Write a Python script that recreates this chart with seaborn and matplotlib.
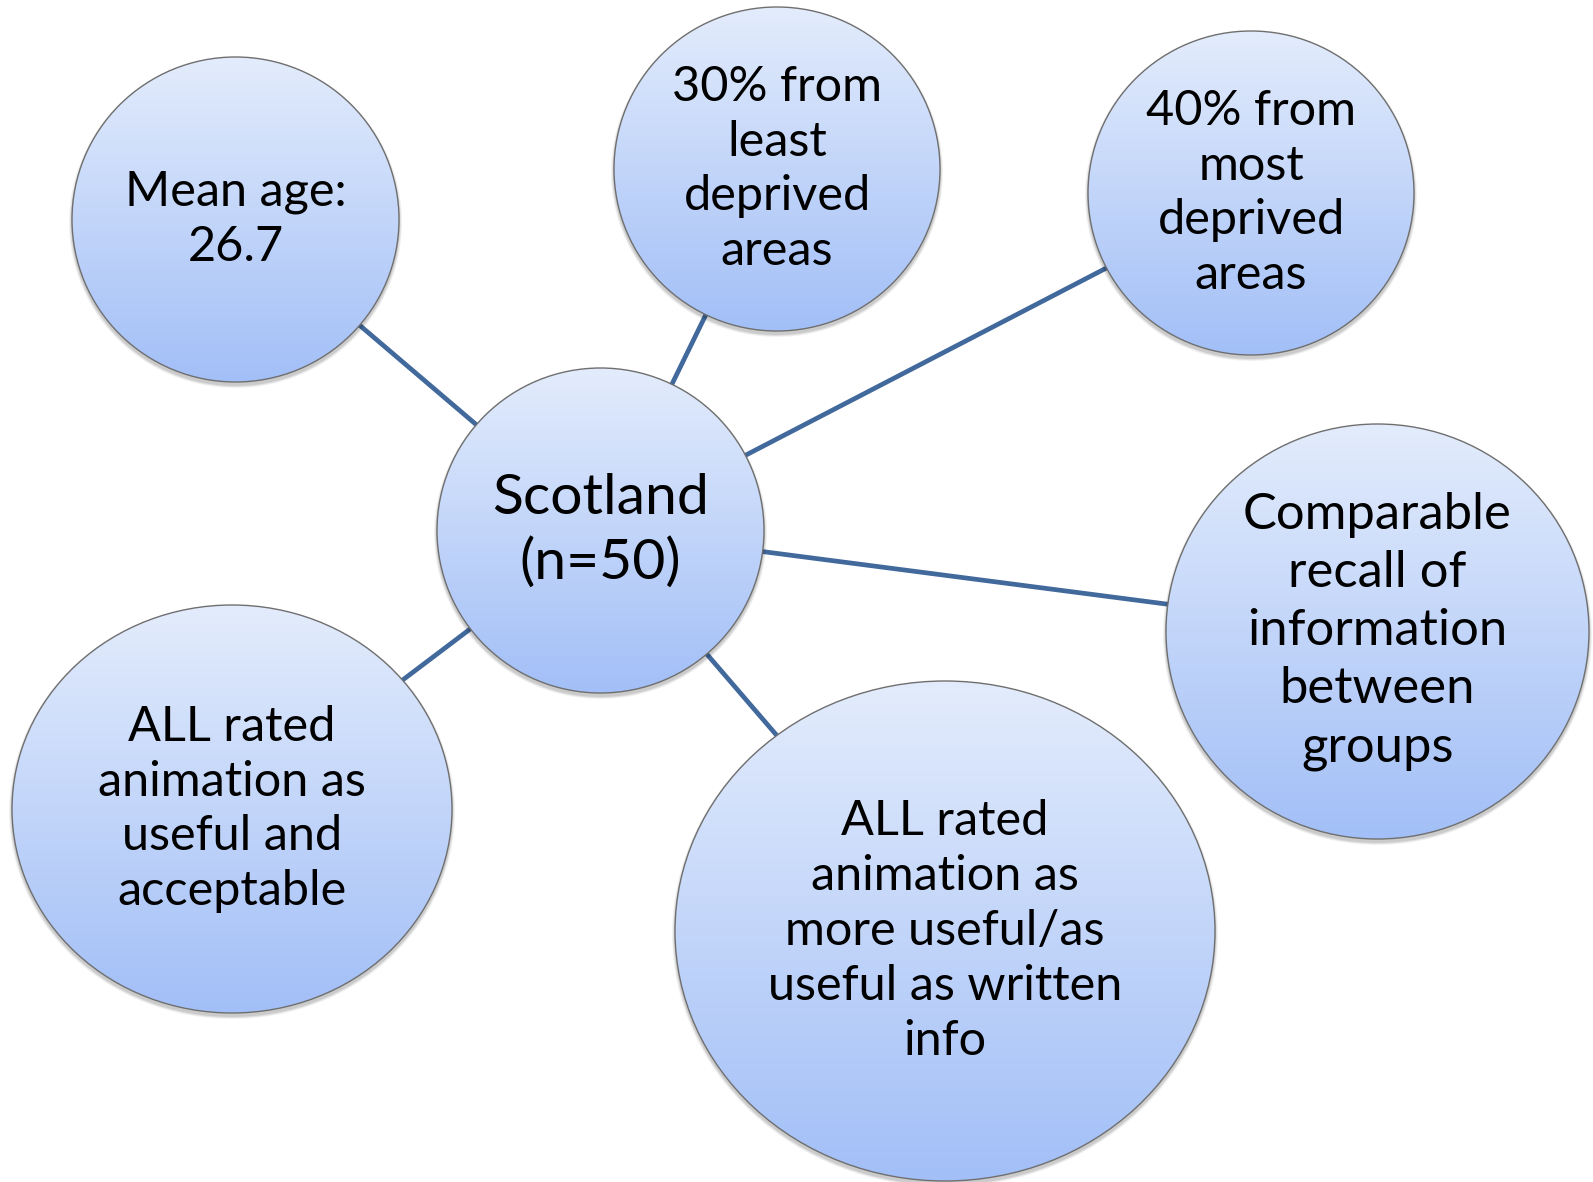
import numpy as np
import pandas as pd
import matplotlib
matplotlib.use("Agg")
import matplotlib.pyplot as plt
from matplotlib.patches import Ellipse
import seaborn as sns

# ---- content ----
hub_label = "Scotland\n(n=50)"
node_labels = [
    "Mean age:\n26.7",
    "30% from\nleast\ndeprived\nareas",
    "40% from\nmost\ndeprived\nareas",
    "Comparable\nrecall of\ninformation\nbetween\ngroups",
    "ALL rated\nanimation as\nmore useful/as\nuseful as written\ninfo",
    "ALL rated\nanimation as\nuseful and\nacceptable",
]

# ---- layout (pixel space) ----
hub_xy = (600.5, 530.5)
hub_r = (163.5, 162.5)
node_x = [235.5, 777, 1251, 1377.5, 945, 232]
node_y = [219.5, 169, 193, 631.5, 931, 809]
node_rx = [163.5, 163, 163, 211.5, 270, 220]
node_ry = [162.5, 162, 162, 207.5, 250, 204]
node_fs = [35, 35, 35, 36.5, 35, 35]
node_ls = [1.3, 1.3, 1.3, 1.33, 1.3, 1.3]

W, H = 1593, 1182
sns.set_theme(style="white")
plt.rcParams["font.family"] = ["Lato", "DejaVu Sans"]

fig = plt.figure(figsize=(W / 100, H / 100), dpi=100)
ax = fig.add_axes([0, 0, 1, 1])

# connectors
rows = []
for i, (x, y) in enumerate(zip(node_x, node_y)):
    rows.append({"edge": i, "order": 0, "x": hub_xy[0], "y": hub_xy[1]})
    rows.append({"edge": i, "order": 1, "x": x, "y": y})
edges = pd.DataFrame(rows)
sns.lineplot(data=edges, x="x", y="y", units="edge", estimator=None, sort=False,
             color="#41699c", lw=3.4, ax=ax, zorder=1, legend=False)

top = np.array([0xe3, 0xec, 0xfc]) / 255
bot = np.array([0xa2, 0xbf, 0xf7]) / 255


def bubble(cx, cy, rx, ry, label, fs, ls):
    # soft shadow
    for k, a in [(6, 0.05), (4, 0.07), (2, 0.09)]:
        sh = Ellipse((cx, cy + 3), 2 * rx + k, 2 * ry + k, facecolor="black",
                     edgecolor="none", alpha=a, zorder=2)
        ax.add_patch(sh)
    t = np.linspace(0, 1, 256)[:, None]
    grad = (1 - t) * top + t * bot
    img = np.repeat(grad[:, None, :], 2, axis=1)
    im = ax.imshow(img, extent=(cx - rx, cx + rx, cy + ry, cy - ry),
                   aspect="auto", zorder=3, interpolation="bilinear")
    e = Ellipse((cx, cy), 2 * rx, 2 * ry, facecolor="none",
                edgecolor="#6f6f6f", lw=1.0, zorder=4)
    ax.add_patch(e)
    clip = Ellipse((cx, cy), 2 * rx, 2 * ry, transform=ax.transData)
    im.set_clip_path(clip)
    ax.text(cx, cy, label, ha="center", va="center", multialignment="center",
            fontsize=fs, linespacing=ls, color="black", zorder=5)


bubble(hub_xy[0], hub_xy[1], hub_r[0], hub_r[1], hub_label, 41, 1.3)
for x, y, rx, ry, lab, fs, ls in zip(node_x, node_y, node_rx, node_ry,
                                     node_labels, node_fs, node_ls):
    bubble(x, y, rx, ry, lab, fs, ls)

ax.set_xlim(0, W)
ax.set_ylim(H, 0)
ax.set_aspect("equal")
ax.axis("off")
fig.savefig("out.png", dpi=100)
